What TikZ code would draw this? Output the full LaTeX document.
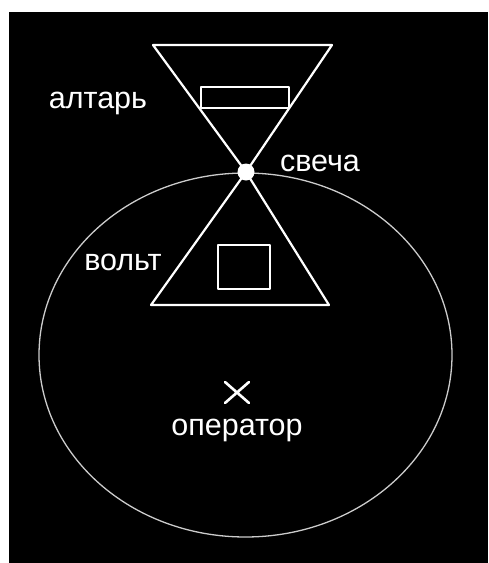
\documentclass[tikz,border=0pt]{standalone}
\usepackage{fontspec}
\setmainfont{Liberation Sans}
\begin{document}
\begin{tikzpicture}[x=1pt,y=-1pt,
  lbl/.style={text=white,font=\fontsize{30.5}{36}\selectfont,inner sep=0pt,anchor=base},
  thick line/.style={draw=white,line width=2.2pt,line join=round},
  thin line/.style={draw=white!80!black,line width=1.3pt}]
\useasboundingbox (0,0) rectangle (488,563);
\fill[white] (0,0) rectangle (488,563);
\fill[black] (9,12) rectangle (488,563);
% ellipse
\draw[thin line] (245.5,355) ellipse [x radius=206.5, y radius=182];
% hourglass
\coordinate (c) at (246,172);
\coordinate (tl) at (153,45);
\coordinate (tr) at (332,45);
\coordinate (bl) at (151,305);
\coordinate (br) at (329,305);
\draw[thick line] (tl) -- (tr) -- (c) -- cycle;
\draw[thick line] (c) -- (bl) -- (br) -- cycle;
\draw[thick line] (201,87) rectangle (289,108);
\draw[thick line] (218,245) rectangle (270,289);
\fill[white] (c) circle (8.5);
% cross
\coordinate (x) at (237,392);
\draw[thick line,line width=2.6pt,line cap=round] (225,382) -- (249,403) (249,382) -- (225,403);
% labels
\node[lbl] (altar) at (98,108) {алтарь};
\node[lbl] (svecha) at (320,171) {свеча};
\node[lbl] (volt) at (123,270) {вольт};
\node[lbl] (oper) at (237,435) {оператор};
\end{tikzpicture}
\end{document}
